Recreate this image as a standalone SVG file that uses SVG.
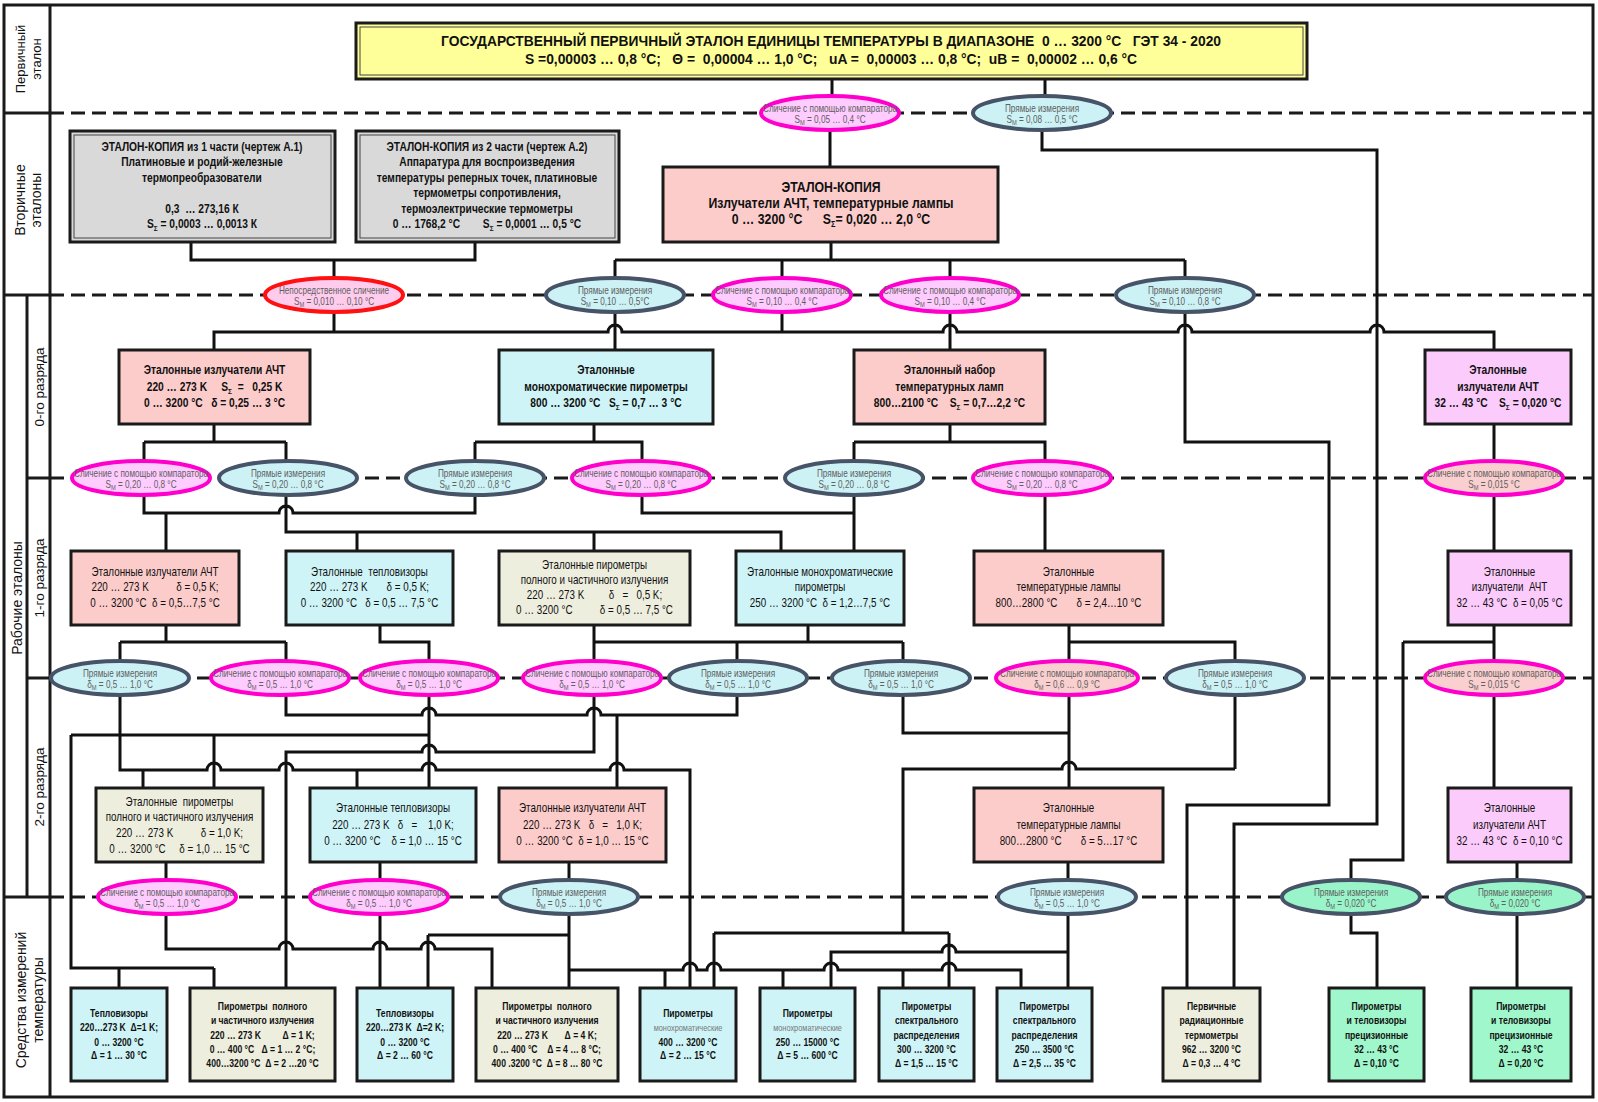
<svg xmlns="http://www.w3.org/2000/svg" width="1598" height="1102" viewBox="0 0 1598 1102">
<style>
.frame{fill:none;stroke:#1a1a1a;stroke-width:3}
.dash{fill:none;stroke:#1a1a1a;stroke-width:3;stroke-dasharray:14 7}
.c{fill:none;stroke:#111;stroke-width:3}
.box{stroke:#1a1a1a;stroke-width:3}
.in{fill:none;stroke:#444;stroke-width:1}
.pk{fill:#FCCCCB}.bl{fill:#CFF4F7}.be{fill:#EEEEDF}.vi{fill:#FBCBFB}.gr{fill:#9FF7CB}.gy{fill:#D9D9D9}.ye{fill:#FFFF99}
.ep{fill:#FFCCFF;stroke:#FF00CC;stroke-width:4}
.eb{fill:#CCF2F6;stroke:#475468;stroke-width:4}
.er{fill:#FFCCEE;stroke:#FF1111;stroke-width:4}
.eo{fill:#F9CFCF;stroke:#FF00CC;stroke-width:4}
.eg{fill:#99F5C9;stroke:#475468;stroke-width:4}
text{font-family:"Liberation Sans",Arial,sans-serif;fill:#111;text-anchor:middle;white-space:pre}
text.n{transform-box:fill-box;transform-origin:center;transform:scaleX(0.82)}
.lab{font-size:14px}
.tt{font-weight:bold;font-size:14px}
.tc{font-weight:bold;font-size:15px}
.b0{font-weight:bold;font-size:12.5px}
.r1{font-size:12px}
.bt{font-weight:bold;font-size:10.5px}
.et{font-size:10px;fill:#606060}
.sm{font-size:9px;fill:#777}
</style>
<g id="frame">
<rect class="frame" x="4" y="5" width="1589" height="1092"/>
<path class="frame" d="M50,5V1097M4,113H50M4,295H50M4,897H50M27,295V897M27,478H50M27,678H50"/>
<path class="dash" d="M50,113H1593M50,295H1593M50,478H1593M50,678H1593M50,897H1593"/>
</g>
<g id="labels">
<text class="lab" style="font-size:13px" transform="translate(25,59) rotate(-90)">Первичный</text>
<text class="lab" style="font-size:13px" transform="translate(41,59) rotate(-90)">эталон</text>
<text class="lab" transform="translate(25,200) rotate(-90)">Вторичные</text>
<text class="lab" transform="translate(41,200) rotate(-90)">эталоны</text>
<text class="lab" transform="translate(22,598) rotate(-90)">Рабочие эталоны</text>
<text class="lab" style="font-size:13.5px" transform="translate(44,387) rotate(-90)">0-го разряда</text>
<text class="lab" style="font-size:13.5px" transform="translate(44,578) rotate(-90)">1-го разряда</text>
<text class="lab" style="font-size:13.5px" transform="translate(44,787) rotate(-90)">2-го разряда</text>
<text class="lab" transform="translate(26,1000) rotate(-90)">Средства измерений</text>
<text class="lab" transform="translate(43,1000) rotate(-90)">температуры</text>
</g>
<g id="connectors">
<path class="c" d="M832,79V113M1045,79V113M830,113V167M1042,113V150H1377V824H1234V988"/>
<path class="c" d="M191,242V260H475V242M334,260V332M831,242V260M615,260H1185M615,260V350M782,260V332M950,260V350M1185,260V442H1329V805H1187V988"/>
<path class="c" d="M214,350V332H608a7 7 0 0 1 14 0H943a7 7 0 0 1 14 0H1178a7 7 0 0 1 14 0H1370a7 7 0 0 1 14 0H1494V350"/>
<path class="c" d="M214,424V442M144,442H286M144,442V513H279a7 7 0 0 1 14 0H475V442M166,513V551M286,442V532H781V551M357,532V551M594,532V551"/>
<path class="c" d="M594,424V442M475,442H642V513H854M854,442V551M950,424V442M854,442H1045V551M1494,424V551M1494,625V788"/>
<path class="c" d="M166,625V642M120,642H286M120,642V770H207a7 7 0 0 1 14 0H279a7 7 0 0 1 14 0H422a7 7 0 0 1 14 0H610a7 7 0 0 1 14 0H690V988M143,770V788M357,770V788"/>
<path class="c" d="M286,642V715H422a7 7 0 0 1 14 0H587a7 7 0 0 1 14 0H737V642M617,715V788M380,625V642H429V788"/>
<path class="c" d="M71,735H429M71,735V968H214M119,968V988M214,968V988M214,735V788"/>
<path class="c" d="M286,988V752H422a7 7 0 0 1 14 0H594V625M594,642H903M808,625V642M903,642V733H1069"/>
<path class="c" d="M1069,625V642H1235V769M1069,642V788M903,933V769H1062a7 7 0 0 1 14 0H1235"/>
<path class="c" d="M1403,642H1494M1403,642V860H1351V933H1377V988"/>
<path class="c" d="M166,862V949H279a7 7 0 0 1 14 0H373a7 7 0 0 1 14 0H421a7 7 0 0 1 14 0H492V988M380,862V988M569,862V988M428,935H569M428,935V988"/>
<path class="c" d="M569,970H683a7 7 0 0 1 14 0H707a7 7 0 0 1 14 0H824a7 7 0 0 1 14 0H942a7 7 0 0 1 14 0H1021V988M665,970V988M783,970V988M903,970V988"/>
<path class="c" d="M714,933H949M714,933V988M949,933V988M831,988V952H942a7 7 0 0 1 14 0H1068M1068,862V988M1517,862V988"/>
</g>
<g id="n-title">
<rect class="box ye" x="356" y="23" width="951" height="56"/>
<rect class="in" x="360" y="27" width="943" height="48"/>
<text class="tt" x="831" y="46" textLength="780" lengthAdjust="spacingAndGlyphs">ГОСУДАРСТВЕННЫЙ ПЕРВИЧНЫЙ ЭТАЛОН ЕДИНИЦЫ ТЕМПЕРАТУРЫ В ДИАПАЗОНЕ  0 … 3200 °C   ГЭТ 34 - 2020</text>
<text class="tt" x="831" y="64" textLength="612" lengthAdjust="spacingAndGlyphs">S =0,00003 … 0,8 °C;   Θ =  0,00004 … 1,0 °C;   uA =  0,00003 … 0,8 °C;  uB =  0,00002 … 0,6 °C</text>
</g>
<g id="n-copy1">
<rect class="box gy" x="70" y="131" width="265" height="111"/>
<rect class="in" x="74" y="135" width="257" height="103"/>
<text class="n b0" x="202" y="151">ЭТАЛОН-КОПИЯ из 1 части (чертеж А.1)</text>
<text class="n b0" x="202" y="166">Платиновые и родий-железные</text>
<text class="n b0" x="202" y="182">термопреобразователи</text>
<text class="n b0" x="202" y="213">0,3  … 273,16 К</text>
<text class="n b0" x="202" y="228">S<tspan dy="3" font-size="8">Σ</tspan><tspan dy="-3"> = 0,0003 … 0,0013 К</tspan></text>
</g>
<g id="n-copy2">
<rect class="box gy" x="356" y="131" width="263" height="111"/>
<rect class="in" x="360" y="135" width="255" height="103"/>
<text class="n b0" x="487" y="151">ЭТАЛОН-КОПИЯ из 2 части (чертеж А.2)</text>
<text class="n b0" x="487" y="166">Аппаратура для воспроизведения</text>
<text class="n b0" x="487" y="182">температуры реперных точек, платиновые</text>
<text class="n b0" x="487" y="197">термометры сопротивления,</text>
<text class="n b0" x="487" y="213">термоэлектрические термометры</text>
<text class="n b0" x="487" y="228">0 … 1768,2 °C        S<tspan dy="3" font-size="8">Σ</tspan><tspan dy="-3"> = 0,0001 … 0,5 °C</tspan></text>
</g>
<g id="n-copy3">
<rect class="box pk" x="663" y="167" width="335" height="75"/>
<text class="n tc" x="831" y="192">ЭТАЛОН-КОПИЯ</text>
<text class="n tc" x="831" y="208">Излучатели АЧТ, температурные лампы</text>
<text class="n tc" x="831" y="224">0 … 3200 °C      S<tspan dy="3" font-size="9">Σ</tspan><tspan dy="-3">= 0,020 … 2,0 °C</tspan></text>
</g>
<g id="n-ach0">
<rect class="box pk" x="119" y="350" width="191" height="74"/>
<text class="n b0" x="214.5" y="374.5">Эталонные излучатели АЧТ</text>
<text class="n b0" x="214.5" y="391">220 … 273 K     S<tspan dy="3" font-size="8">Σ</tspan><tspan dy="-3">  =   0,25 K</tspan></text>
<text class="n b0" x="214.5" y="407.5">0 … 3200 °C   δ = 0,25 … 3 °C</text>
</g>
<g id="n-mono0">
<rect class="box bl" x="499" y="350" width="214" height="74"/>
<text class="n b0" x="606" y="374.5">Эталонные</text>
<text class="n b0" x="606" y="391">монохроматические пирометры</text>
<text class="n b0" x="606" y="407.5">800 … 3200 °C   S<tspan dy="3" font-size="8">Σ</tspan><tspan dy="-3"> = 0,7 … 3 °C</tspan></text>
</g>
<g id="n-lamp0">
<rect class="box pk" x="854" y="350" width="191" height="74"/>
<text class="n b0" x="949.5" y="374.5">Эталонный набор</text>
<text class="n b0" x="949.5" y="391">температурных ламп</text>
<text class="n b0" x="949.5" y="407.5">800…2100 °C    S<tspan dy="3" font-size="8">Σ</tspan><tspan dy="-3"> = 0,7…2,2 °C</tspan></text>
</g>
<g id="n-vio0">
<rect class="box vi" x="1425" y="350" width="146" height="74"/>
<text class="n b0" x="1498" y="374.5">Эталонные</text>
<text class="n b0" x="1498" y="391">излучатели АЧТ</text>
<text class="n b0" x="1498" y="407.5">32 … 43 °C    S<tspan dy="3" font-size="8">Σ</tspan><tspan dy="-3"> = 0,020 °C</tspan></text>
</g>
<g id="n-ach1">
<rect class="box pk" x="71" y="551" width="168" height="74"/>
<text class="n r1" x="155" y="576">Эталонные излучатели АЧТ</text>
<text class="n r1" x="155" y="591">220 … 273 K          δ = 0,5 K;</text>
<text class="n r1" x="155" y="607">0 … 3200 °C  δ = 0,5…7,5 °C</text>
</g>
<g id="n-tep1">
<rect class="box bl" x="286" y="551" width="167" height="74"/>
<text class="n r1" x="369.5" y="576">Эталонные  тепловизоры</text>
<text class="n r1" x="369.5" y="591">220 … 273 K       δ = 0,5 K;</text>
<text class="n r1" x="369.5" y="607">0 … 3200 °C   δ = 0,5 … 7,5 °C</text>
</g>
<g id="n-pir1">
<rect class="box be" x="499" y="551" width="191" height="74"/>
<text class="n r1" x="594.5" y="569">Эталонные пирометры</text>
<text class="n r1" x="594.5" y="584">полного и частичного излучения</text>
<text class="n r1" x="594.5" y="599">220 … 273 K         δ   =   0,5 K;</text>
<text class="n r1" x="594.5" y="614">0 … 3200 °C          δ = 0,5 … 7,5 °C</text>
</g>
<g id="n-mono1">
<rect class="box bl" x="736" y="551" width="168" height="74"/>
<text class="n r1" x="820" y="576">Эталонные монохроматические</text>
<text class="n r1" x="820" y="591">пирометры</text>
<text class="n r1" x="820" y="607">250 … 3200 °C  δ = 1,2…7,5 °C</text>
</g>
<g id="n-lamp1">
<rect class="box pk" x="974" y="551" width="189" height="74"/>
<text class="n r1" x="1068.5" y="576">Эталонные</text>
<text class="n r1" x="1068.5" y="591">температурные лампы</text>
<text class="n r1" x="1068.5" y="607">800…2800 °C       δ = 2,4…10 °C</text>
</g>
<g id="n-vio1">
<rect class="box vi" x="1448" y="551" width="123" height="74"/>
<text class="n r1" x="1509.5" y="576">Эталонные</text>
<text class="n r1" x="1509.5" y="591">излучатели  АЧТ</text>
<text class="n r1" x="1509.5" y="607">32 … 43 °C  δ = 0,05 °C</text>
</g>
<g id="n-pir2">
<rect class="box be" x="96" y="788" width="167" height="74"/>
<text class="n r1" x="179.5" y="806">Эталонные  пирометры</text>
<text class="n r1" x="179.5" y="821">полного и частичного излучения</text>
<text class="n r1" x="179.5" y="837">220 … 273 K          δ = 1,0 K;</text>
<text class="n r1" x="179.5" y="853">0 … 3200 °C     δ = 1,0 … 15 °C</text>
</g>
<g id="n-tep2">
<rect class="box bl" x="310" y="788" width="166" height="74"/>
<text class="n r1" x="393" y="812">Эталонные тепловизоры</text>
<text class="n r1" x="393" y="829">220 … 273 K   δ   =    1,0 K;</text>
<text class="n r1" x="393" y="845">0 … 3200 °C    δ = 1,0 … 15 °C</text>
</g>
<g id="n-ach2">
<rect class="box pk" x="499" y="788" width="167" height="74"/>
<text class="n r1" x="582.5" y="812">Эталонные излучатели АЧТ</text>
<text class="n r1" x="582.5" y="829">220 … 273 K   δ   =   1,0 K;</text>
<text class="n r1" x="582.5" y="845">0 … 3200 °C  δ = 1,0 … 15 °C</text>
</g>
<g id="n-lamp2">
<rect class="box pk" x="974" y="788" width="189" height="74"/>
<text class="n r1" x="1068.5" y="812">Эталонные</text>
<text class="n r1" x="1068.5" y="829">температурные лампы</text>
<text class="n r1" x="1068.5" y="845">800…2800 °C       δ = 5…17 °C</text>
</g>
<g id="n-vio2">
<rect class="box vi" x="1448" y="788" width="123" height="74"/>
<text class="n r1" x="1509.5" y="812">Эталонные</text>
<text class="n r1" x="1509.5" y="829">излучатели АЧТ</text>
<text class="n r1" x="1509.5" y="845">32 … 43 °C  δ = 0,10 °C</text>
</g>
<g id="n-b1">
<rect class="box bl" x="71" y="988" width="96" height="93"/>
<text class="n bt" x="119" y="1017">Тепловизоры</text>
<text class="n bt" x="119" y="1031">220…273 K  Δ=1 K;</text>
<text class="n bt" x="119" y="1046">0 … 3200 °C</text>
<text class="n bt" x="119" y="1059">Δ = 1 … 30 °C</text>
</g>
<g id="n-b2">
<rect class="box be" x="190" y="988" width="145" height="93"/>
<text class="n bt" x="262.5" y="1010">Пирометры  полного</text>
<text class="n bt" x="262.5" y="1024">и частичного излучения</text>
<text class="n bt" x="262.5" y="1039">220 … 273 K         Δ = 1 K;</text>
<text class="n bt" x="262.5" y="1053">0 … 400 °C   Δ = 1 … 2 °C;</text>
<text class="n bt" x="262.5" y="1067">400…3200 °C  Δ = 2 …20 °C</text>
</g>
<g id="n-b3">
<rect class="box bl" x="357" y="988" width="96" height="93"/>
<text class="n bt" x="405" y="1017">Тепловизоры</text>
<text class="n bt" x="405" y="1031">220…273 K  Δ=2 K;</text>
<text class="n bt" x="405" y="1046">0 … 3200 °C</text>
<text class="n bt" x="405" y="1059">Δ = 2 … 60 °C</text>
</g>
<g id="n-b4">
<rect class="box be" x="476" y="988" width="142" height="93"/>
<text class="n bt" x="547" y="1010">Пирометры  полного</text>
<text class="n bt" x="547" y="1024">и частичного излучения</text>
<text class="n bt" x="547" y="1039">220 … 273 K       Δ = 4 K;</text>
<text class="n bt" x="547" y="1053">0 … 400 °C    Δ = 4 … 8 °C;</text>
<text class="n bt" x="547" y="1067">400 .3200 °C  Δ = 8 … 80 °C</text>
</g>
<g id="n-b5">
<rect class="box bl" x="640" y="988" width="96" height="93"/>
<text class="n bt" x="688" y="1017">Пирометры</text>
<text class="n sm" x="688" y="1031">монохроматические</text>
<text class="n bt" x="688" y="1046">400 … 3200 °C</text>
<text class="n bt" x="688" y="1059">Δ = 2 … 15 °C</text>
</g>
<g id="n-b6">
<rect class="box bl" x="760" y="988" width="95" height="93"/>
<text class="n bt" x="807.5" y="1017">Пирометры</text>
<text class="n sm" x="807.5" y="1031">монохроматические</text>
<text class="n bt" x="807.5" y="1046">250 … 15000 °C</text>
<text class="n bt" x="807.5" y="1059">Δ = 5 … 600 °C</text>
</g>
<g id="n-b7">
<rect class="box bl" x="879" y="988" width="95" height="93"/>
<text class="n bt" x="926.5" y="1010">Пирометры</text>
<text class="n bt" x="926.5" y="1024">спектрального</text>
<text class="n bt" x="926.5" y="1039">распределения</text>
<text class="n bt" x="926.5" y="1053">300 … 3200 °C</text>
<text class="n bt" x="926.5" y="1067">Δ = 1,5 … 15 °C</text>
</g>
<g id="n-b8">
<rect class="box bl" x="997" y="988" width="95" height="93"/>
<text class="n bt" x="1044.5" y="1010">Пирометры</text>
<text class="n bt" x="1044.5" y="1024">спектрального</text>
<text class="n bt" x="1044.5" y="1039">распределения</text>
<text class="n bt" x="1044.5" y="1053">250 … 3500 °C</text>
<text class="n bt" x="1044.5" y="1067">Δ = 2,5 … 35 °C</text>
</g>
<g id="n-b9">
<rect class="box be" x="1163" y="988" width="97" height="93"/>
<text class="n bt" x="1211.5" y="1010">Первичные</text>
<text class="n bt" x="1211.5" y="1024">радиационные</text>
<text class="n bt" x="1211.5" y="1039">термометры</text>
<text class="n bt" x="1211.5" y="1053">962 … 3200 °C</text>
<text class="n bt" x="1211.5" y="1067">Δ = 0,3 … 4 °C</text>
</g>
<g id="n-b10">
<rect class="box gr" x="1329" y="988" width="95" height="93"/>
<text class="n bt" x="1376.5" y="1010">Пирометры</text>
<text class="n bt" x="1376.5" y="1024">и теловизоры</text>
<text class="n bt" x="1376.5" y="1039">прецизионные</text>
<text class="n bt" x="1376.5" y="1053">32 … 43 °C</text>
<text class="n bt" x="1376.5" y="1067">Δ = 0,10 °C</text>
</g>
<g id="n-b11">
<rect class="box gr" x="1471" y="988" width="100" height="93"/>
<text class="n bt" x="1521" y="1010">Пирометры</text>
<text class="n bt" x="1521" y="1024">и теловизоры</text>
<text class="n bt" x="1521" y="1039">прецизионные</text>
<text class="n bt" x="1521" y="1053">32 … 43 °C</text>
<text class="n bt" x="1521" y="1067">Δ = 0,20 °C</text>
</g>
<g id="e1"><ellipse class="ep" cx="830" cy="113" rx="69" ry="17"/><text class="n et" x="830" y="112.5">Сличение с помощью компаратора</text><text class="n et" x="830" y="123.5">S<tspan dy="2" font-size="7">М</tspan><tspan dy="-2"> = 0,05 … 0,4 °C</tspan></text></g>
<g id="e2"><ellipse class="eb" cx="1042" cy="113" rx="69" ry="17"/><text class="n et" x="1042" y="112.5">Прямые измерения</text><text class="n et" x="1042" y="123.5">S<tspan dy="2" font-size="7">М</tspan><tspan dy="-2"> = 0,08 … 0,5 °C</tspan></text></g>
<g id="e3"><ellipse class="er" cx="334" cy="295" rx="69" ry="17"/><text class="n et" x="334" y="294.5">Непосредственное сличение</text><text class="n et" x="334" y="305.5">S<tspan dy="2" font-size="7">М</tspan><tspan dy="-2"> = 0,010 … 0,10 °C</tspan></text></g>
<g id="e4"><ellipse class="eb" cx="615" cy="295" rx="69" ry="17"/><text class="n et" x="615" y="294.5">Прямые измерения</text><text class="n et" x="615" y="305.5">S<tspan dy="2" font-size="7">М</tspan><tspan dy="-2"> = 0,10 … 0,5°C</tspan></text></g>
<g id="e5"><ellipse class="ep" cx="782" cy="295" rx="69" ry="17"/><text class="n et" x="782" y="294.5">Сличение с помощью компаратора</text><text class="n et" x="782" y="305.5">S<tspan dy="2" font-size="7">М</tspan><tspan dy="-2"> = 0,10 … 0,4 °C</tspan></text></g>
<g id="e6"><ellipse class="ep" cx="950" cy="295" rx="69" ry="17"/><text class="n et" x="950" y="294.5">Сличение с помощью компаратора</text><text class="n et" x="950" y="305.5">S<tspan dy="2" font-size="7">М</tspan><tspan dy="-2"> = 0,10 … 0,4 °C</tspan></text></g>
<g id="e7"><ellipse class="eb" cx="1185" cy="295" rx="69" ry="17"/><text class="n et" x="1185" y="294.5">Прямые измерения</text><text class="n et" x="1185" y="305.5">S<tspan dy="2" font-size="7">М</tspan><tspan dy="-2"> = 0,10 … 0,8 °C</tspan></text></g>
<g id="e8"><ellipse class="ep" cx="141" cy="478" rx="69" ry="17"/><text class="n et" x="141" y="477.5">Сличение с помощью компаратора</text><text class="n et" x="141" y="488.5">S<tspan dy="2" font-size="7">М</tspan><tspan dy="-2"> = 0,20 … 0,8 °C</tspan></text></g>
<g id="e9"><ellipse class="eb" cx="288" cy="478" rx="69" ry="17"/><text class="n et" x="288" y="477.5">Прямые измерения</text><text class="n et" x="288" y="488.5">S<tspan dy="2" font-size="7">М</tspan><tspan dy="-2"> = 0,20 … 0,8 °C</tspan></text></g>
<g id="e10"><ellipse class="eb" cx="475" cy="478" rx="69" ry="17"/><text class="n et" x="475" y="477.5">Прямые измерения</text><text class="n et" x="475" y="488.5">S<tspan dy="2" font-size="7">М</tspan><tspan dy="-2"> = 0,20 … 0,8 °C</tspan></text></g>
<g id="e11"><ellipse class="ep" cx="641" cy="478" rx="69" ry="17"/><text class="n et" x="641" y="477.5">Сличение с помощью компаратора</text><text class="n et" x="641" y="488.5">S<tspan dy="2" font-size="7">М</tspan><tspan dy="-2"> = 0,20 … 0,8 °C</tspan></text></g>
<g id="e12"><ellipse class="eb" cx="854" cy="478" rx="69" ry="17"/><text class="n et" x="854" y="477.5">Прямые измерения</text><text class="n et" x="854" y="488.5">S<tspan dy="2" font-size="7">М</tspan><tspan dy="-2"> = 0,20 … 0,8 °C</tspan></text></g>
<g id="e13"><ellipse class="ep" cx="1042" cy="478" rx="69" ry="17"/><text class="n et" x="1042" y="477.5">Сличение с помощью компаратора</text><text class="n et" x="1042" y="488.5">S<tspan dy="2" font-size="7">М</tspan><tspan dy="-2"> = 0,20 … 0,8 °C</tspan></text></g>
<g id="e14"><ellipse class="eo" cx="1494" cy="478" rx="69" ry="17"/><text class="n et" x="1494" y="477.5">Сличение с помощью компаратора</text><text class="n et" x="1494" y="488.5">S<tspan dy="2" font-size="7">М</tspan><tspan dy="-2"> = 0,015 °C</tspan></text></g>
<g id="e15"><ellipse class="eb" cx="120" cy="678" rx="69" ry="17"/><text class="n et" x="120" y="677.5">Прямые измерения</text><text class="n et" x="120" y="688.5">δ<tspan dy="2" font-size="7">М</tspan><tspan dy="-2"> = 0,5 … 1,0 °C</tspan></text></g>
<g id="e16"><ellipse class="ep" cx="280" cy="678" rx="69" ry="17"/><text class="n et" x="280" y="677.5">Сличение с помощью компаратора</text><text class="n et" x="280" y="688.5">δ<tspan dy="2" font-size="7">М</tspan><tspan dy="-2"> = 0,5 … 1,0 °C</tspan></text></g>
<g id="e17"><ellipse class="ep" cx="429" cy="678" rx="69" ry="17"/><text class="n et" x="429" y="677.5">Сличение с помощью компаратора</text><text class="n et" x="429" y="688.5">δ<tspan dy="2" font-size="7">М</tspan><tspan dy="-2"> = 0,5 … 1,0 °C</tspan></text></g>
<g id="e18"><ellipse class="ep" cx="592" cy="678" rx="69" ry="17"/><text class="n et" x="592" y="677.5">Сличение с помощью компаратора</text><text class="n et" x="592" y="688.5">δ<tspan dy="2" font-size="7">М</tspan><tspan dy="-2"> = 0,5 … 1,0 °C</tspan></text></g>
<g id="e19"><ellipse class="eb" cx="738" cy="678" rx="69" ry="17"/><text class="n et" x="738" y="677.5">Прямые измерения</text><text class="n et" x="738" y="688.5">δ<tspan dy="2" font-size="7">М</tspan><tspan dy="-2"> = 0,5 … 1,0 °C</tspan></text></g>
<g id="e20"><ellipse class="eb" cx="901" cy="678" rx="69" ry="17"/><text class="n et" x="901" y="677.5">Прямые измерения</text><text class="n et" x="901" y="688.5">δ<tspan dy="2" font-size="7">М</tspan><tspan dy="-2"> = 0,5 … 1,0 °C</tspan></text></g>
<g id="e21"><ellipse class="eo" cx="1067" cy="678" rx="71" ry="17"/><text class="n et" x="1067" y="677.5">Сличение с помощью компаратора</text><text class="n et" x="1067" y="688.5">δ<tspan dy="2" font-size="7">М</tspan><tspan dy="-2"> = 0,6 … 0,9 °C</tspan></text></g>
<g id="e22"><ellipse class="eb" cx="1235" cy="678" rx="69" ry="17"/><text class="n et" x="1235" y="677.5">Прямые измерения</text><text class="n et" x="1235" y="688.5">δ<tspan dy="2" font-size="7">М</tspan><tspan dy="-2"> = 0,5 … 1,0 °C</tspan></text></g>
<g id="e23"><ellipse class="eo" cx="1494" cy="678" rx="69" ry="17"/><text class="n et" x="1494" y="677.5">Сличение с помощью компаратора</text><text class="n et" x="1494" y="688.5">S<tspan dy="2" font-size="7">М</tspan><tspan dy="-2"> = 0,015 °C</tspan></text></g>
<g id="e24"><ellipse class="ep" cx="167" cy="897" rx="69" ry="17"/><text class="n et" x="167" y="896.5">Сличение с помощью компаратора</text><text class="n et" x="167" y="907.5">δ<tspan dy="2" font-size="7">М</tspan><tspan dy="-2"> = 0,5 … 1,0 °C</tspan></text></g>
<g id="e25"><ellipse class="ep" cx="379" cy="897" rx="69" ry="17"/><text class="n et" x="379" y="896.5">Сличение с помощью компаратора</text><text class="n et" x="379" y="907.5">δ<tspan dy="2" font-size="7">М</tspan><tspan dy="-2"> = 0,5 … 1,0 °C</tspan></text></g>
<g id="e26"><ellipse class="eb" cx="569" cy="897" rx="69" ry="17"/><text class="n et" x="569" y="896.5">Прямые измерения</text><text class="n et" x="569" y="907.5">δ<tspan dy="2" font-size="7">М</tspan><tspan dy="-2"> = 0,5 … 1,0 °C</tspan></text></g>
<g id="e27"><ellipse class="eb" cx="1067" cy="897" rx="69" ry="17"/><text class="n et" x="1067" y="896.5">Прямые измерения</text><text class="n et" x="1067" y="907.5">δ<tspan dy="2" font-size="7">М</tspan><tspan dy="-2"> = 0,5 … 1,0 °C</tspan></text></g>
<g id="e28"><ellipse class="eg" cx="1351" cy="897" rx="69" ry="17"/><text class="n et" x="1351" y="896.5">Прямые измерения</text><text class="n et" x="1351" y="907.5">δ<tspan dy="2" font-size="7">М</tspan><tspan dy="-2"> = 0,020 °C</tspan></text></g>
<g id="e29"><ellipse class="eg" cx="1515" cy="897" rx="69" ry="17"/><text class="n et" x="1515" y="896.5">Прямые измерения</text><text class="n et" x="1515" y="907.5">δ<tspan dy="2" font-size="7">М</tspan><tspan dy="-2"> = 0,020 °C</tspan></text></g>
</svg>
